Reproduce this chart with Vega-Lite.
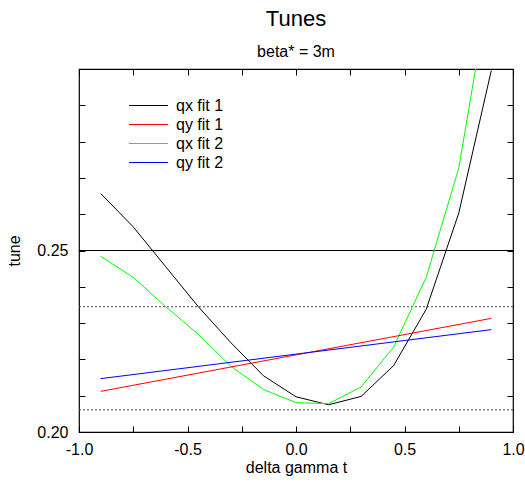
{
  "$schema": "https://vega.github.io/schema/vega-lite/v6.json",
  "width": 434,
  "height": 363,
  "autosize": "none",
  "padding": {"left": 79, "top": 69, "right": 12, "bottom": 51},
  "background": "white",
  "title": {
    "text": "Tunes",
    "subtitle": "beta* = 3m",
    "anchor": "middle",
    "font": "Liberation Sans",
    "fontSize": 22,
    "fontWeight": "normal",
    "color": "black",
    "subtitleFont": "Liberation Sans",
    "subtitleFontSize": 16,
    "subtitleColor": "black",
    "subtitlePadding": 13,
    "offset": 8
  },
  "config": {
    "view": {"stroke": "black", "strokeWidth": 1.2},
    "font": "Liberation Sans",
    "axis": {
      "domain": false,
      "grid": false,
      "tickColor": "black",
      "tickSize": -6,
      "tickWidth": 1,
      "labelFont": "Liberation Sans",
      "labelFontSize": 16,
      "labelColor": "black",
      "titleFont": "Liberation Sans",
      "titleFontSize": 16,
      "titleFontWeight": "normal",
      "titleColor": "black"
    },
    "legend": {
      "orient": "none",
      "legendX": 59,
      "legendY": 26,
      "symbolType": "M-2,0H2",
      "symbolSize": 380,
      "symbolStrokeWidth": 1.2,
      "labelFont": "Liberation Sans",
      "labelFontSize": 16,
      "labelColor": "black",
      "labelOffset": 17,
      "rowPadding": 0,
      "title": null
    }
  },
  "datasets": {
    "qx": [
      {"t": -0.9, "tune": 0.2657, "series": "qx fit 1"},
      {"t": -0.75, "tune": 0.2565, "series": "qx fit 1"},
      {"t": -0.6, "tune": 0.2455, "series": "qx fit 1"},
      {"t": -0.45, "tune": 0.2345, "series": "qx fit 1"},
      {"t": -0.3, "tune": 0.2246, "series": "qx fit 1"},
      {"t": -0.15, "tune": 0.2155, "series": "qx fit 1"},
      {"t": 0.0, "tune": 0.2097, "series": "qx fit 1"},
      {"t": 0.15, "tune": 0.2075, "series": "qx fit 1"},
      {"t": 0.3, "tune": 0.2098, "series": "qx fit 1"},
      {"t": 0.45, "tune": 0.2183, "series": "qx fit 1"},
      {"t": 0.6, "tune": 0.2338, "series": "qx fit 1"},
      {"t": 0.75, "tune": 0.2603, "series": "qx fit 1"},
      {"t": 0.9, "tune": 0.2996, "series": "qx fit 1"},
      {"t": -0.9, "tune": 0.2484, "series": "qx fit 2"},
      {"t": -0.75, "tune": 0.2426, "series": "qx fit 2"},
      {"t": -0.6, "tune": 0.2345, "series": "qx fit 2"},
      {"t": -0.45, "tune": 0.2269, "series": "qx fit 2"},
      {"t": -0.3, "tune": 0.2181, "series": "qx fit 2"},
      {"t": -0.15, "tune": 0.2117, "series": "qx fit 2"},
      {"t": 0.0, "tune": 0.2081, "series": "qx fit 2"},
      {"t": 0.15, "tune": 0.2078, "series": "qx fit 2"},
      {"t": 0.3, "tune": 0.2124, "series": "qx fit 2"},
      {"t": 0.45, "tune": 0.2234, "series": "qx fit 2"},
      {"t": 0.6, "tune": 0.2426, "series": "qx fit 2"},
      {"t": 0.75, "tune": 0.2727, "series": "qx fit 2"},
      {"t": 0.9, "tune": 0.3256, "series": "qx fit 2"}
    ],
    "qy": [
      {"t": -0.9, "tune": 0.2112, "series": "qy fit 1"},
      {"t": 0.9, "tune": 0.2313, "series": "qy fit 1"},
      {"t": -0.9, "tune": 0.2147, "series": "qy fit 2"},
      {"t": 0.9, "tune": 0.2282, "series": "qy fit 2"}
    ],
    "nominal": [{"tune": 0.25}],
    "bounds": [{"tune": 0.2345}, {"tune": 0.2061}]
  },
  "layer": [
    {
      "data": {"name": "nominal"},
      "mark": {"type": "rule", "color": "black", "strokeWidth": 1.2},
      "encoding": {
        "y": {"field": "tune", "type": "quantitative", "scale": {"domain": [0.2, 0.3], "nice": false, "zero": false}, "axis": null}
      }
    },
    {
      "data": {"name": "bounds"},
      "mark": {"type": "rule", "color": "#444444", "strokeWidth": 1, "strokeDash": [2, 2]},
      "encoding": {
        "y": {"field": "tune", "type": "quantitative", "axis": null}
      }
    },
    {
      "data": {"name": "qx"},
      "mark": {"type": "line", "strokeWidth": 1, "clip": true},
      "encoding": {
        "x": {
          "field": "t", "type": "quantitative",
          "scale": {"domain": [-1, 1], "nice": false, "zero": false},
          "axis": {
            "orient": "bottom", "title": "delta gamma t",
            "values": [-1, -0.75, -0.5, -0.25, 0, 0.25, 0.5, 0.75, 1],
            "labelExpr": "abs(datum.value * 2 - round(datum.value * 2)) < 0.01 ? replace(format(datum.value, '.1f'), '−', '-') : ''",
            "labelPadding": 15, "titlePadding": 2, "labelFlush": false
          }
        },
        "y": {
          "field": "tune", "type": "quantitative",
          "axis": {
            "orient": "left", "title": "tune",
            "values": [0.2, 0.21, 0.22, 0.23, 0.24, 0.25, 0.26, 0.27, 0.28, 0.29, 0.3],
            "labelExpr": "(abs(datum.value - 0.2) < 0.001 || abs(datum.value - 0.25) < 0.001) ? format(datum.value, '.2f') : ''",
            "labelPadding": 17, "titlePadding": 14, "labelFlush": false
          }
        },
        "color": {
          "field": "series", "type": "nominal",
          "scale": {"domain": ["qx fit 1", "qy fit 1", "qx fit 2", "qy fit 2"], "range": ["#000000", "#ff0000", "#00ff00", "#0000ff"]}
        }
      }
    },
    {
      "data": {"name": "qy"},
      "mark": {"type": "line", "strokeWidth": 1, "clip": true},
      "encoding": {
        "x": {
          "field": "t", "type": "quantitative",
          "axis": {
            "orient": "top", "title": null, "labels": false,
            "values": [-1, -0.75, -0.5, -0.25, 0, 0.25, 0.5, 0.75, 1]
          }
        },
        "y": {
          "field": "tune", "type": "quantitative",
          "axis": {
            "orient": "right", "title": null, "labels": false,
            "values": [0.2, 0.21, 0.22, 0.23, 0.24, 0.25, 0.26, 0.27, 0.28, 0.29, 0.3]
          }
        },
        "color": {"field": "series", "type": "nominal"}
      }
    }
  ],
  "resolve": {"axis": {"x": "independent", "y": "independent"}}
}
